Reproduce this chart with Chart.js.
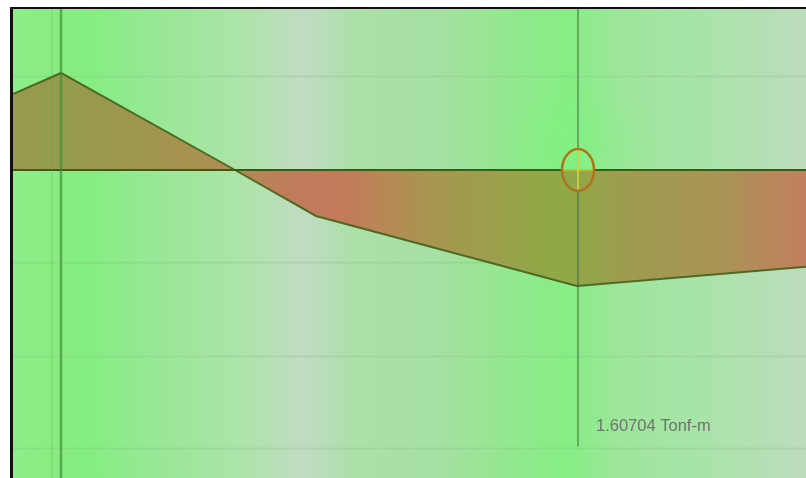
<!DOCTYPE html>
<html><head><meta charset="utf-8">
<script src="https://cdn.jsdelivr.net/npm/chart.js@4.4.1/dist/chart.umd.min.js"></script>
<style>html,body{margin:0;padding:0;background:#fff;overflow:hidden}#wrap{width:806px;height:478px;position:relative}</style>
</head><body><div id="wrap"><canvas id="c" width="806" height="478"></canvas></div>
<script>
// Beam stations (m) and bending moment (Tonf-m), positive drawn downward
const stations = [-0.48, 0, 1.74, 2.55, 5.16, 7.45];
const moments  = [-1.05, -1.344, 0, 0.637, 1.60704, 1.34];
const columnX = 0;
const cursorX = 5.16;
const cursorMoment = 1.60704;
const unitLabel = 'Tonf-m';
const xRange = [-0.48, 7.45];
const yRange = [-2.2305, 4.2671];
const gridY = [-1.30, 1.28, 2.57, 3.85];
const cursorEnd = 3.83;
const labelY = 3.55;

const bgStops = [[13,'#8cee88'],[61,'#88ec82'],[85,'#84ee80'],[150,'#96e894'],[240,'#ace4a8'],[300,'#c0dcc0'],[318,'#bcdcbc'],[350,'#ace0a8'],[440,'#a6e0a2'],[510,'#92e88e'],[570,'#86ee84'],[620,'#9ee69c'],[700,'#a8e4a8'],[806,'#bcdcbc']];
const fillStops = [[13,'#989a4e'],[61,'#949c4c'],[200,'#a89250'],[300,'#c27a5c'],[340,'#c47a5a'],[430,'#a89650'],[560,'#8eaa46'],[640,'#a09a50'],[720,'#aa9456'],[806,'#c27e5e']];

function hGrad(ctx, area, stops){
  const g = ctx.createLinearGradient(area.left,0,area.right,0);
  const w = area.right-area.left;
  stops.forEach(([px,c])=>g.addColorStop(Math.min(1,Math.max(0,(px-area.left)/w)),c));
  return g;
}

const bgPlugin = {
  id:'bg',
  beforeDraw(chart){
    const {ctx, chartArea:a, scales:{x,y}} = chart;
    ctx.save();
    ctx.fillStyle='#fff'; ctx.fillRect(0,0,chart.width,chart.height);
    ctx.fillStyle = hGrad(ctx,a,bgStops);
    ctx.fillRect(a.left,a.top,a.right-a.left,a.bottom-a.top);
    // glow near cursor
    const cx = x.getPixelForValue(cursorX), cy = y.getPixelForValue(0);
    const rg = ctx.createRadialGradient(cx,cy-20,5,cx,cy-20,80);
    rg.addColorStop(0,'rgba(122,244,122,0.4)');
    rg.addColorStop(1,'rgba(122,244,122,0)');
    ctx.fillStyle=rg; ctx.fillRect(cx-100,a.top,200,cy-a.top);
    // faint horizontal grid
    ctx.strokeStyle='rgba(110,150,100,0.13)'; ctx.lineWidth=2;
    gridY.forEach(v=>{const py=Math.round(y.getPixelForValue(v))+0.5;ctx.beginPath();ctx.moveTo(a.left,py);ctx.lineTo(a.right,py);ctx.stroke();});
    // border
    ctx.fillStyle='#111';
    ctx.fillRect(10,7,chart.width-10,2);
    ctx.fillRect(10,7,3,chart.height-7);
    ctx.restore();
  },
  afterDatasetsDraw(chart){
    const {ctx, chartArea:a, scales:{x,y}} = chart;
    ctx.save();
    // column line
    const colPx = x.getPixelForValue(columnX);
    ctx.strokeStyle='rgba(60,140,50,0.65)'; ctx.lineWidth=2.5;
    ctx.beginPath(); ctx.moveTo(colPx,a.top); ctx.lineTo(colPx,a.bottom); ctx.stroke();
    ctx.strokeStyle='rgba(90,170,80,0.25)'; ctx.lineWidth=1.5;
    ctx.beginPath(); ctx.moveTo(colPx-9,a.top); ctx.lineTo(colPx-9,a.bottom); ctx.stroke();
    // cursor line
    const cx = x.getPixelForValue(cursorX)+1;
    ctx.strokeStyle='rgba(70,105,70,0.8)'; ctx.lineWidth=1.3;
    ctx.beginPath(); ctx.moveTo(cx,a.top); ctx.lineTo(cx,y.getPixelForValue(cursorEnd)); ctx.stroke();
    // ellipse marker
    const cy = y.getPixelForValue(0);
    ctx.strokeStyle='#e6e23c'; ctx.lineWidth=1.5;
    ctx.beginPath(); ctx.moveTo(cx-16,cy); ctx.lineTo(cx+16,cy); ctx.moveTo(cx,cy-20); ctx.lineTo(cx,cy+20); ctx.stroke();
    ctx.strokeStyle='#b0721a'; ctx.lineWidth=2.5;
    ctx.beginPath(); ctx.ellipse(cx,cy,16,21,0,0,Math.PI*2); ctx.stroke();
    // label
    ctx.fillStyle='#6e746e';
    ctx.font='16.5px "Liberation Sans", Arial, sans-serif';
    ctx.textBaseline='middle';
    ctx.fillText(cursorMoment.toFixed(5)+' '+unitLabel, cx+18, y.getPixelForValue(labelY));
    ctx.restore();
  }
};

new Chart(document.getElementById('c'),{
  type:'line',
  data:{datasets:[
    {data:[{x:xRange[0],y:0},{x:xRange[1],y:0}], borderColor:'#3e5a14', borderWidth:2, pointRadius:0, fill:false, order:0},
    {data:stations.map((s,i)=>({x:s,y:moments[i]})), borderColor:'#4f6824', borderWidth:2, pointRadius:0, tension:0,
     fill:{value:0}, order:1,
     backgroundColor:(c)=>{const a=c.chart.chartArea; if(!a) return '#a09050'; return hGrad(c.chart.ctx,a,fillStops);}}
  ]},
  options:{
    responsive:false, animation:false, devicePixelRatio:1,
    layout:{padding:{left:13,top:9,right:0,bottom:0}},
    plugins:{legend:{display:false},tooltip:{enabled:false}},
    scales:{
      x:{type:'linear',min:xRange[0],max:xRange[1],display:false},
      y:{type:'linear',min:yRange[0],max:yRange[1],reverse:true,display:false}
    }
  },
  plugins:[bgPlugin]
});
</script></body></html>
